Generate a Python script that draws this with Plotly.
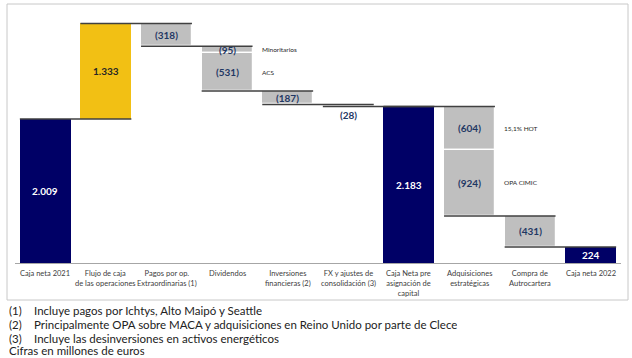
import plotly.graph_objects as go

W, H = 632, 358

categories = [
    "Caja neta 2021",
    "Flujo de caja<br>de las operaciones",
    "Pagos por op.<br>Extraordinarias (1)",
    "Dividendos",
    "Inversiones<br>financieras (2)",
    "FX y ajustes de<br>consolidación (3)",
    "Caja Neta pre<br>asignación de<br>capital",
    "Adquisiciones<br>estratégicas",
    "Compra de<br>Autrocartera",
    "Caja neta 2022",
]

# waterfall segments (category index, value, kind, note)
segment_cat = [0, 1, 2, 3, 3, 4, 5, 6, 7, 7, 8, 9]
segment_val = [2009, 1333, -318, -95, -531, -187, -28, 2183, -604, -924, -431, 224]
segment_kind = ["total", "up", "down", "down", "down", "down", "down", "total", "down", "down", "down", "total"]
segment_note = ["", "", "", "Minoritarios", "ACS", "", "", "", "15,1% HOT", "OPA CIMIC", "", ""]

footnotes = [
    ("(1)", "Incluye pagos por Ichtys, Alto Maipó y Seattle"),
    ("(2)", "Principalmente OPA sobre MACA y adquisiciones en Reino Unido por parte de Clece"),
    ("(3)", "Incluye las desinversiones en activos energéticos"),
]
units_note = "Cifras en millones de euros"

NAVY = "#000066"
YELLOW = "#F2C014"
GRAY = "#BFBFBF"
LABEL = "#1F3864"
FONT = "Lato"


def fmt(v):
    s = f"{abs(v):,}".replace(",", ".")
    return f"({s})" if v < 0 else s


# compute bases
bases, heights, tops, bottoms, end_levels = [], [], [], [], []
level = 0
for v, k in zip(segment_val, segment_kind):
    if k == "total":
        b, h = 0, v
        level = v
    elif k == "up":
        b, h = level, v
        level += v
    else:
        b, h = level + v, -v
        level += v
    bases.append(b)
    heights.append(h)
    bottoms.append(b)
    tops.append(b + h)
    end_levels.append(level)

colors = [NAVY if k == "total" else (YELLOW if k == "up" else GRAY) for k in segment_kind]

fig = go.Figure()
BW = 0.84
fig.add_trace(go.Bar(
    x=segment_cat, y=heights, base=bases, width=BW,
    marker=dict(color=colors,
                line=dict(color="white", width=[0 if k != "down" else 1.2 for k in segment_kind])),
    hoverinfo="skip", showlegend=False,
))

shapes = []
annotations = []

# connector lines spanning a bar and the next one
for i in range(len(segment_cat) - 1):
    c0, c1 = segment_cat[i], segment_cat[i + 1]
    if c0 == c1:
        continue
    lv = end_levels[i]
    shapes.append(dict(type="line", xref="x", yref="y",
                       x0=c0 - BW / 2, x1=c1 + BW / 2, y0=lv, y1=lv,
                       line=dict(color="#404040", width=1.5)))

# value labels
for i, (c, v, k) in enumerate(zip(segment_cat, segment_val, segment_kind)):
    mid = (tops[i] + bottoms[i]) / 2
    if k == "total":
        col = "white"
    elif k == "up":
        col = "#262626"
    else:
        col = LABEL
    if abs(v) < 60 and k != "total":
        annotations.append(dict(x=c, y=bottoms[i], xref="x", yref="y", text=f"<b>{fmt(v)}</b>",
                                showarrow=False, yanchor="top", yshift=-1,
                                font=dict(family=FONT, size=10, color=col)))
    else:
        annotations.append(dict(x=c, y=mid, xref="x", yref="y", text=f"<b>{fmt(v)}</b>",
                                showarrow=False, font=dict(family=FONT, size=10, color=col)))
    if segment_note[i]:
        annotations.append(dict(x=c + 0.54, y=mid, xref="x", yref="y", text=segment_note[i],
                                showarrow=False, xanchor="left",
                                font=dict(family=FONT, size=6.5, color="#262626")))

# category labels
for j, cat in enumerate(categories):
    annotations.append(dict(x=j, y=1 - 267 / H, xref="x", yref="paper", text=cat, showarrow=False,
                            xanchor="center", yanchor="top", align="center",
                            font=dict(family=FONT, size=7.5, color="#404040")))

# frame
shapes.append(dict(type="rect", xref="paper", yref="paper",
                   x0=7 / W, x1=628 / W, y0=1 - 300 / H, y1=1 - 4 / H,
                   line=dict(color="#C8C8C8", width=1)))

# footnotes
FN = dict(family=FONT, size=11.5, color="#222")
for j, (num, txt) in enumerate(footnotes):
    yy = 1 - (310.5 + 14 * j) / H
    annotations.append(dict(x=7 / W, y=yy, xref="paper", yref="paper", text=num, showarrow=False,
                            xanchor="left", yanchor="middle", height=13.5, font=FN))
    annotations.append(dict(x=32 / W, y=yy, xref="paper", yref="paper", text=txt, showarrow=False,
                            xanchor="left", yanchor="middle", height=13.5, font=FN))
annotations.append(dict(x=7 / W, y=1 - 351.2 / H, xref="paper", yref="paper", text=units_note,
                        showarrow=False, xanchor="left", yanchor="middle", height=13.5, font=FN))

fig.update_layout(
    width=W, height=H,
    margin=dict(l=0, r=0, t=0, b=0),
    paper_bgcolor="white", plot_bgcolor="white",
    bargap=0,
    shapes=shapes, annotations=annotations,
    xaxis=dict(domain=[15 / W, 621 / W], range=[-0.5, 9.5],
               tickvals=[], showticklabels=False, automargin=False,
               showline=True, linecolor="#A6A6A6", linewidth=1,
               showgrid=False, zeroline=False, ticks=""),
    yaxis=dict(domain=[1 - 263 / H, 1 - 10 / H], range=[0, 253 / 0.0717],
               visible=False, showgrid=False, zeroline=False, automargin=False),
)

fig.write_html(
    "out.html",
    config={"displayModeBar": False},
    post_script="document.body.style.margin='0';document.body.style.overflow='hidden';",
)
